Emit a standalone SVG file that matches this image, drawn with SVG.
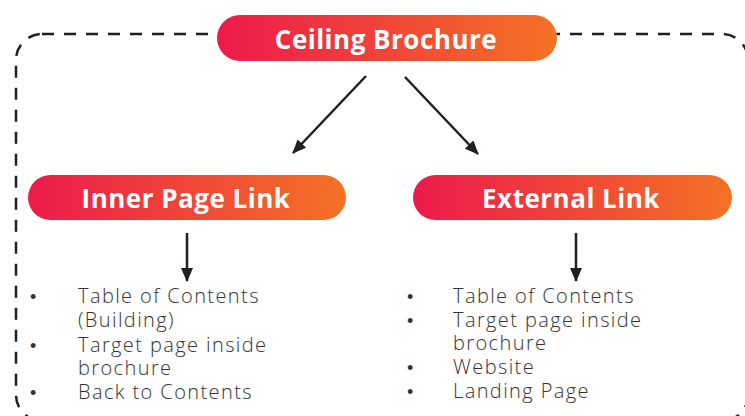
<svg xmlns="http://www.w3.org/2000/svg" width="745" height="416" viewBox="0 0 745 416">
<defs>
<linearGradient id="g" x1="0" y1="0" x2="1" y2="0">
<stop offset="0" stop-color="#EC1A4B"/>
<stop offset="1" stop-color="#F47224"/>
</linearGradient>
<marker id="ah" markerWidth="14" markerHeight="12" viewBox="0 0 14 12" refX="13" refY="6" orient="auto" markerUnits="userSpaceOnUse">
<path d="M0,0 L14,6 L0,12 Z" fill="#231F20"/>
</marker>
<style>
.pill{fill:url(#g);}
.title{font-family:"Open Sans","Liberation Sans",sans-serif;font-weight:700;font-size:26px;fill:#fff;text-anchor:middle;letter-spacing:0.5px;}
.item{font-family:"Open Sans","Liberation Sans",sans-serif;font-weight:300;font-size:20px;fill:#333;letter-spacing:1.4px;}
.bul{font-family:"Liberation Sans",sans-serif;font-size:18px;fill:#333;}
.conn{stroke:#231F20;stroke-width:2.5;fill:none;marker-end:url(#ah);}
</style>
</defs>
<rect width="745" height="416" fill="#fff"/>
<rect x="16" y="34" width="732" height="387" rx="26" ry="26" fill="none" stroke="#231F20" stroke-width="2.5" stroke-dasharray="12 10"/>
<g id="connectors">
<line class="conn" x1="366" y1="76" x2="293" y2="153"/>
<line class="conn" x1="405" y1="77" x2="478" y2="154"/>
<line class="conn" x1="187" y1="233" x2="187" y2="281"/>
<line class="conn" x1="576" y1="233" x2="576" y2="281"/>
</g>
<g id="ceiling-brochure">
<rect class="pill" x="217" y="15" width="340" height="46" rx="23"/>
<text class="title" x="386" y="49">Ceiling Brochure</text>
</g>
<g id="inner-page-link">
<rect class="pill" x="28" y="175" width="318" height="45" rx="22.5"/>
<text class="title" x="186" y="208">Inner Page Link</text>
</g>
<g id="external-link">
<rect class="pill" x="413" y="175" width="319" height="45" rx="22.5"/>
<text class="title" x="571" y="208">External Link</text>
</g>
<g id="inner-list">
<text class="bul" x="30" y="303">•</text>
<text class="bul" x="30" y="352">•</text>
<text class="bul" x="30" y="399">•</text>
<text class="item" x="78" y="303">Table of Contents</text>
<text class="item" x="78" y="327">(Building)</text>
<text class="item" x="78" y="352">Target page inside</text>
<text class="item" x="78" y="375">brochure</text>
<text class="item" x="78" y="399">Back to Contents</text>
</g>
<g id="external-list">
<text class="bul" x="407" y="303">•</text>
<text class="bul" x="407" y="327">•</text>
<text class="bul" x="407" y="374">•</text>
<text class="bul" x="407" y="398">•</text>
<text class="item" x="453" y="303">Table of Contents</text>
<text class="item" x="453" y="327">Target page inside</text>
<text class="item" x="453" y="350">brochure</text>
<text class="item" x="453" y="374">Website</text>
<text class="item" x="453" y="398">Landing Page</text>
</g>
</svg>
